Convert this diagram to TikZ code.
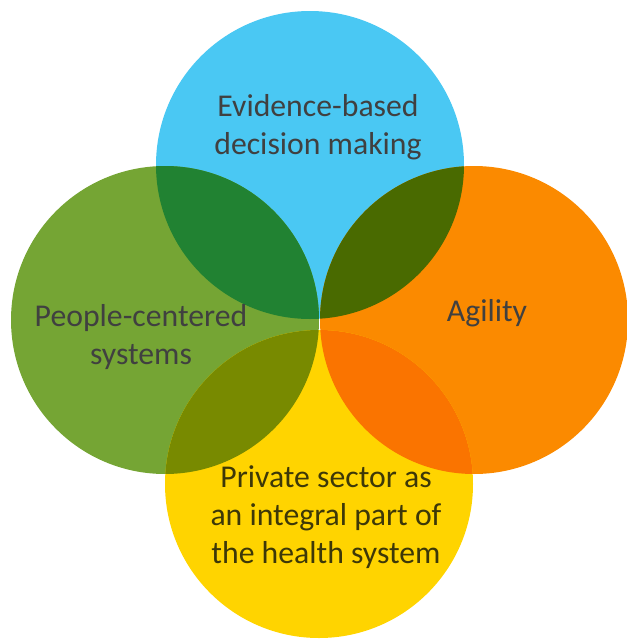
\documentclass[tikz,border=0pt]{standalone}
\usepackage{fontspec}
\setmainfont{Carlito}
\usepackage{tikz}
\usetikzlibrary{positioning}
\definecolor{evblue}{HTML}{4AC8F3}
\definecolor{pcgreen}{HTML}{75A534}
\definecolor{agorange}{HTML}{FB8A00}
\definecolor{psyellow}{HTML}{FFD400}
% colours where two circles overlap
\definecolor{bluegreen}{HTML}{218232}
\definecolor{blueorange}{HTML}{496A00}
\definecolor{greenyellow}{HTML}{788A00}
\definecolor{orangeyellow}{HTML}{FA7400}
\definecolor{textgray}{HTML}{404040}
\definecolor{textolive}{HTML}{3D3808}
\tikzset{
  bubble/.style={circle, minimum size=231pt, inner sep=0pt},
  bubbletext/.style={align=center, text=textgray, font=\fontsize{23.8}{28.5}\selectfont, inner sep=0pt}
}

\begin{document}
\begin{tikzpicture}[x=0.75pt, y=-0.75pt]
  \useasboundingbox (0,0) rectangle (626,639);
  \node[bubble, fill=evblue] (evidence) at (310,165) {};
  \node[bubble, fill=pcgreen] (people) at (165,320) {};
  \node[bubble, fill=agorange] (agility) at (474,320) {};
  \node[bubble, fill=psyellow] (private) at (319,484) {};
  % overlaps
  \begin{scope}
    \clip (evidence.center) circle (154);
    \fill[bluegreen] (people.center) circle (154);
    \fill[blueorange] (agility.center) circle (154);
  \end{scope}
  \begin{scope}
    \clip (private.center) circle (154);
    \fill[greenyellow] (people.center) circle (154);
    \fill[orangeyellow] (agility.center) circle (154);
  \end{scope}
  \node[bubbletext] (evidencetxt) at (318,127) {Evidence-based\\decision making};
  \node[bubbletext] (peopletxt) at (141,337) {People-centered\\systems};
  \node[bubbletext] (agilitytxt) at (487,313) {Agility};
  \node[bubbletext, text=textolive] (privatetxt) at (326,517) {Private sector as\\an integral part of\\the health system};
\end{tikzpicture}
\end{document}
